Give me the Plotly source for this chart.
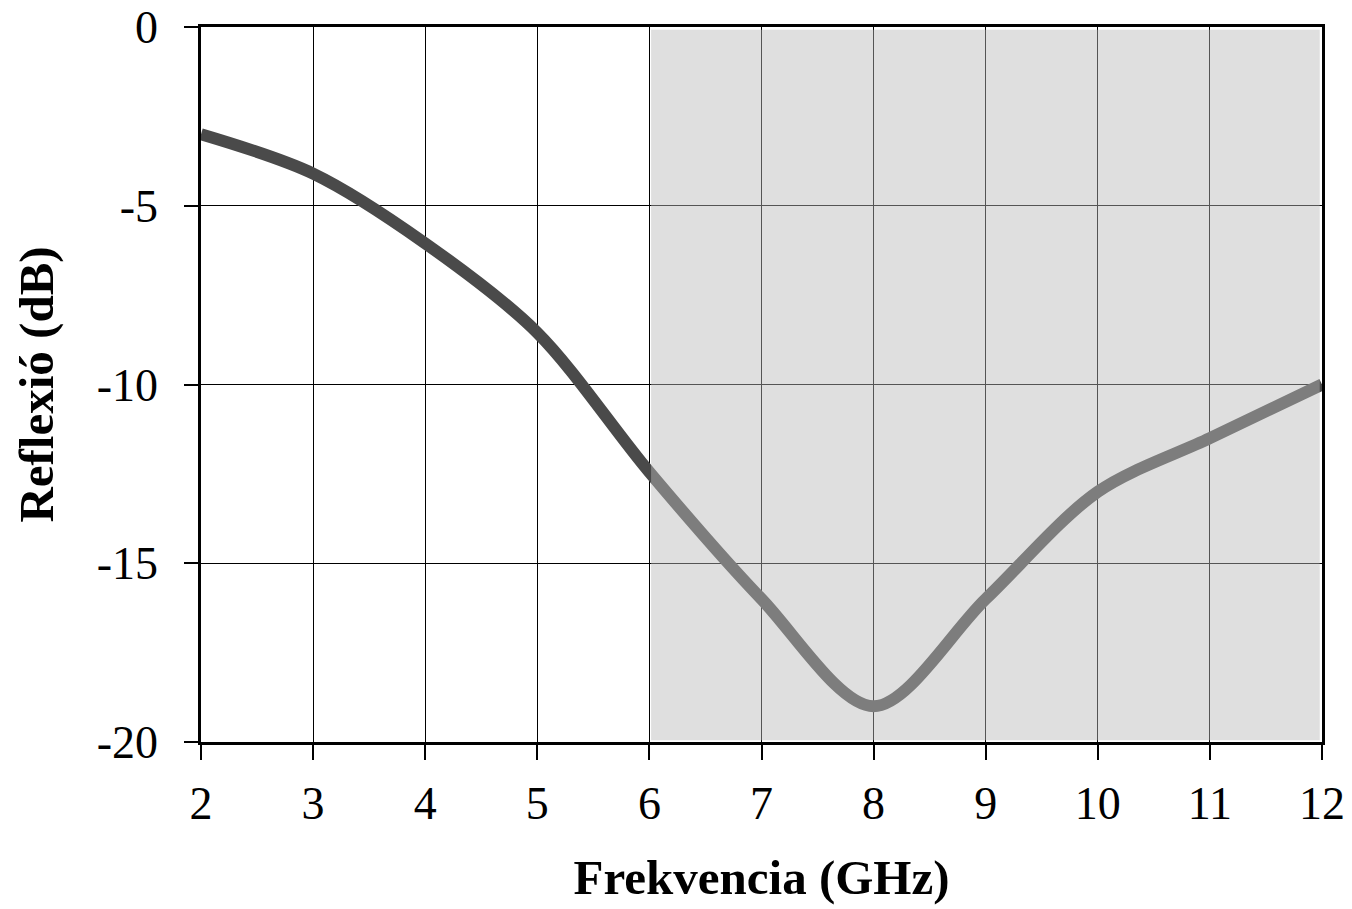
import plotly.graph_objects as go

# Reflection measurement, frequency in GHz vs reflection in dB
freq_ghz = [2, 3, 4, 5, 6, 7, 8, 9, 10, 11, 12]
reflection_db = [-3.0, -4.1, -6.05, -8.55, -12.45, -16.0, -19.0, -16.0, -13.0, -11.5, -10.0]

x_ticks = [2, 3, 4, 5, 6, 7, 8, 9, 10, 11, 12]
y_ticks = [0, -5, -10, -15, -20]

band_start, band_end = 6, 12

tick_font = dict(family="Liberation Serif", size=46, color="black")
title_font = dict(family="Liberation Serif", size=49, color="black")

fig = go.Figure()
fig.add_trace(go.Scatter(
    x=freq_ghz, y=reflection_db, mode="lines",
    line=dict(color="#4a4a4a", width=12, shape="spline", smoothing=0.9),
    showlegend=False, hoverinfo="skip",
))

# translucent band over the upper frequency range
fig.add_shape(
    type="rect", xref="x", yref="y", layer="above",
    x0=band_start + 0.015, x1=band_end - 0.02, y0=-19.95, y1=-0.08,
    fillcolor="rgba(185,185,185,0.46)", line=dict(width=0),
)

fig.update_layout(
    width=1352, height=909,
    margin=dict(l=201, r=30, t=27, b=167, autoexpand=False),
    paper_bgcolor="white", plot_bgcolor="white",
    xaxis=dict(
        range=[2, 12], tickvals=x_ticks, ticktext=[str(v) for v in x_ticks],
        showgrid=True, gridcolor="black", gridwidth=1.2,
        showline=True, linecolor="black", linewidth=2.5, mirror=True,
        ticks="outside", ticklen=15, tickwidth=1.5, tickcolor="black",
        tickfont=tick_font, zeroline=False, ticklabelstandoff=4,
        ticklabeloverflow="allow", automargin=False,
        title=dict(text="<b>Frekvencia (GHz)</b>", font=title_font, standoff=32),
    ),
    yaxis=dict(
        range=[-20, 0], tickvals=y_ticks, ticktext=[str(v) for v in y_ticks],
        showgrid=True, gridcolor="black", gridwidth=1.2,
        showline=True, linecolor="black", linewidth=2.5, mirror=True,
        ticks="outside", ticklen=14, tickwidth=1.5, tickcolor="black",
        tickfont=tick_font, zeroline=False, ticklabelstandoff=17,
        ticklabeloverflow="allow", automargin=False,
        title=dict(text="<b>Reflexió (dB)</b>", font=title_font, standoff=28),
    ),
)

fig.write_html("out.html")
